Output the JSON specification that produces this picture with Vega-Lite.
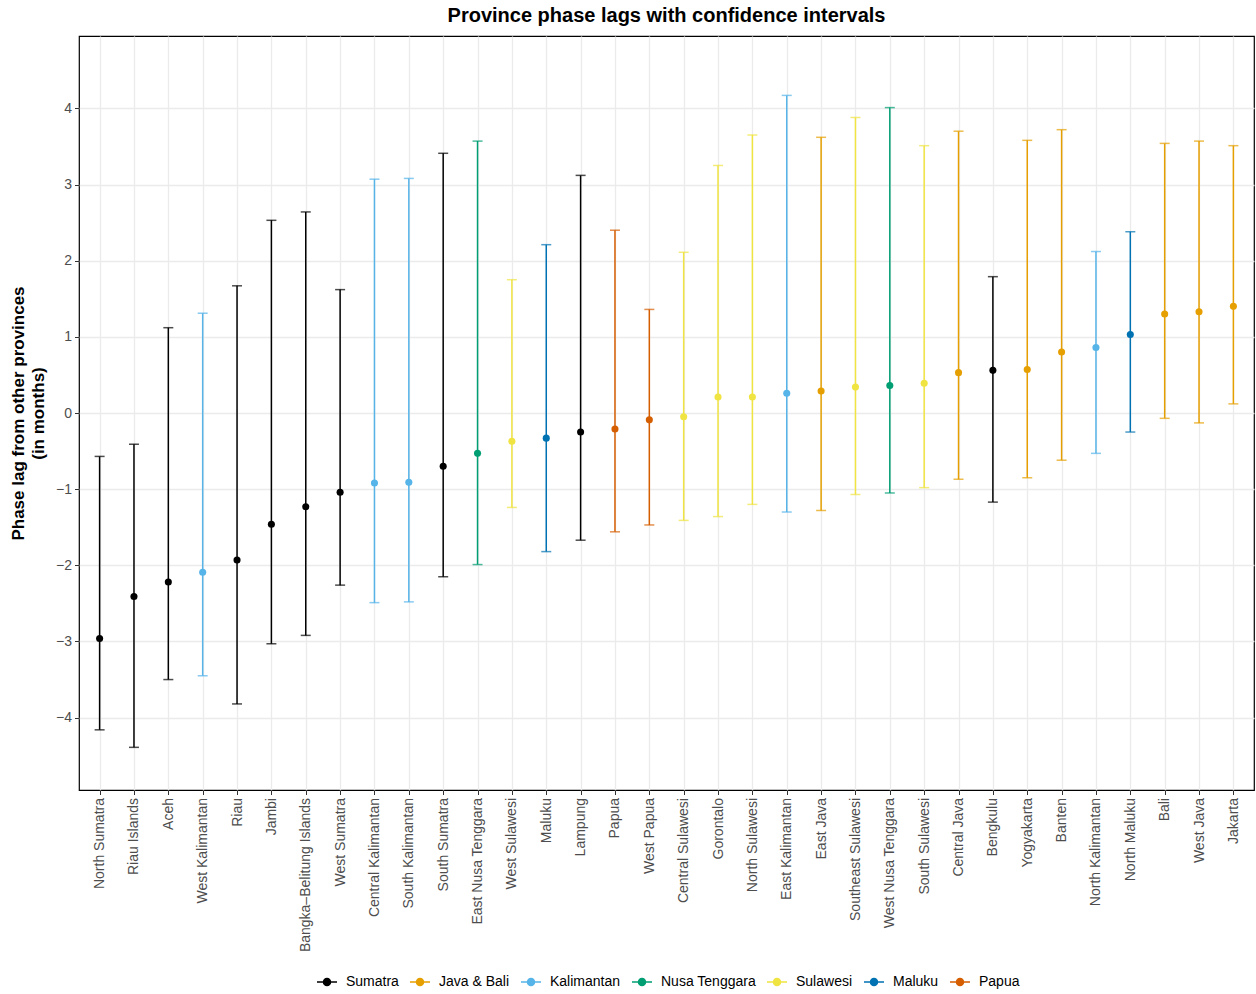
{
  "$schema": "https://vega.github.io/schema/vega-lite/v6.json",
  "width": 1175,
  "height": 754,
  "autosize": {"type": "none"},
  "padding": {"left": 79, "top": 36, "right": 2, "bottom": 204},
  "background": "white",
  "title": {"text": "Province phase lags with confidence intervals", "fontSize": 20, "fontWeight": "bold", "font": "Liberation Sans", "color": "black", "anchor": "middle", "offset": 10},
  "config": {
    "view": {"stroke": "black", "strokeWidth": 1.2},
    "font": "Liberation Sans",
    "axis": {"domain": false, "grid": true, "gridColor": "#ebebeb", "gridWidth": 1.3, "tickColor": "#333333", "tickSize": 4.5, "tickWidth": 1, "labelColor": "#4d4d4d", "labelFontSize": 14, "labelFont": "Liberation Sans", "titleFont": "Liberation Sans"}
  },
  "data": {"values": [
    {"province": "North Sumatra", "region": "Sumatra", "est": -2.96, "lo": -4.16, "hi": -0.57},
    {"province": "Riau Islands", "region": "Sumatra", "est": -2.41, "lo": -4.39, "hi": -0.41},
    {"province": "Aceh", "region": "Sumatra", "est": -2.22, "lo": -3.50, "hi": 1.12},
    {"province": "West Kalimantan", "region": "Kalimantan", "est": -2.09, "lo": -3.45, "hi": 1.31},
    {"province": "Riau", "region": "Sumatra", "est": -1.93, "lo": -3.82, "hi": 1.67},
    {"province": "Jambi", "region": "Sumatra", "est": -1.46, "lo": -3.03, "hi": 2.53},
    {"province": "Bangka–Belitung Islands", "region": "Sumatra", "est": -1.23, "lo": -2.92, "hi": 2.64},
    {"province": "West Sumatra", "region": "Sumatra", "est": -1.04, "lo": -2.26, "hi": 1.62},
    {"province": "Central Kalimantan", "region": "Kalimantan", "est": -0.92, "lo": -2.49, "hi": 3.07},
    {"province": "South Kalimantan", "region": "Kalimantan", "est": -0.91, "lo": -2.48, "hi": 3.08},
    {"province": "South Sumatra", "region": "Sumatra", "est": -0.70, "lo": -2.15, "hi": 3.41},
    {"province": "East Nusa Tenggara", "region": "Nusa Tenggara", "est": -0.53, "lo": -1.99, "hi": 3.57},
    {"province": "West Sulawesi", "region": "Sulawesi", "est": -0.37, "lo": -1.24, "hi": 1.75},
    {"province": "Maluku", "region": "Maluku", "est": -0.33, "lo": -1.82, "hi": 2.21},
    {"province": "Lampung", "region": "Sumatra", "est": -0.25, "lo": -1.67, "hi": 3.12},
    {"province": "Papua", "region": "Papua", "est": -0.21, "lo": -1.56, "hi": 2.40},
    {"province": "West Papua", "region": "Papua", "est": -0.09, "lo": -1.47, "hi": 1.36},
    {"province": "Central Sulawesi", "region": "Sulawesi", "est": -0.05, "lo": -1.41, "hi": 2.11},
    {"province": "Gorontalo", "region": "Sulawesi", "est": 0.21, "lo": -1.36, "hi": 3.25},
    {"province": "North Sulawesi", "region": "Sulawesi", "est": 0.21, "lo": -1.20, "hi": 3.65},
    {"province": "East Kalimantan", "region": "Kalimantan", "est": 0.26, "lo": -1.30, "hi": 4.17},
    {"province": "East Java", "region": "Java & Bali", "est": 0.29, "lo": -1.28, "hi": 3.62},
    {"province": "Southeast Sulawesi", "region": "Sulawesi", "est": 0.34, "lo": -1.07, "hi": 3.88},
    {"province": "West Nusa Tenggara", "region": "Nusa Tenggara", "est": 0.36, "lo": -1.05, "hi": 4.01},
    {"province": "South Sulawesi", "region": "Sulawesi", "est": 0.39, "lo": -0.98, "hi": 3.51},
    {"province": "Central Java", "region": "Java & Bali", "est": 0.53, "lo": -0.87, "hi": 3.70},
    {"province": "Bengkulu", "region": "Sumatra", "est": 0.56, "lo": -1.17, "hi": 1.79},
    {"province": "Yogyakarta", "region": "Java & Bali", "est": 0.57, "lo": -0.85, "hi": 3.58},
    {"province": "Banten", "region": "Java & Bali", "est": 0.80, "lo": -0.62, "hi": 3.72},
    {"province": "North Kalimantan", "region": "Kalimantan", "est": 0.86, "lo": -0.53, "hi": 2.12},
    {"province": "North Maluku", "region": "Maluku", "est": 1.03, "lo": -0.25, "hi": 2.38},
    {"province": "Bali", "region": "Java & Bali", "est": 1.30, "lo": -0.07, "hi": 3.54},
    {"province": "West Java", "region": "Java & Bali", "est": 1.33, "lo": -0.13, "hi": 3.57},
    {"province": "Jakarta", "region": "Java & Bali", "est": 1.40, "lo": 0.12, "hi": 3.51}
  ]},
  "encoding": {
    "x": {"field": "province", "type": "nominal", "sort": null, "scale": {"type": "point", "padding": 0.6},
      "axis": {"title": null, "labelAngle": -90, "labelPadding": 3}},
    "color": {"field": "region", "type": "nominal",
      "scale": {"domain": ["Sumatra", "Java & Bali", "Kalimantan", "Nusa Tenggara", "Sulawesi", "Maluku", "Papua"],
                "range": ["#000000", "#E69F00", "#56B4E9", "#009E73", "#F0E442", "#0072B2", "#D55E00"]},
      "legend": {"title": null, "orient": "none", "direction": "horizontal", "legendX": 237, "legendY": 935,
        "labelFontSize": 14, "labelColor": "black", "labelFont": "Liberation Sans",
        "symbolType": "M-1,0H1M0.35,0A0.35,0.35,0,1,1,-0.35,0A0.35,0.35,0,1,1,0.35,0Z",
        "symbolSize": 400, "symbolStrokeWidth": 1.5, "labelOffset": 8, "columnPadding": 8,
        "encode": {"symbols": {"update": {"fill": {"scale": "color", "field": "value"}, "stroke": {"scale": "color", "field": "value"}, "strokeWidth": {"value": 1.5}}}}}
    }
  },
  "layer": [
    {"mark": {"type": "rule", "strokeWidth": 1.5},
     "encoding": {
       "y": {"field": "lo", "type": "quantitative", "scale": {"domain": [-4.95, 4.95], "nice": false, "zero": false},
         "axis": {"values": [-4, -3, -2, -1, 0, 1, 2, 3, 4], "format": "d", "title": ["Phase lag from other provinces", "(in months)"], "titleFontSize": 17, "titleFontWeight": "bold", "titleColor": "black", "titleLineHeight": 20, "titlePadding": 8, "labelPadding": 3}},
       "y2": {"field": "hi"}
     }},
    {"mark": {"type": "tick", "size": 10, "thickness": 1.5}, "encoding": {"y": {"field": "lo", "type": "quantitative"}}},
    {"mark": {"type": "tick", "size": 10, "thickness": 1.5}, "encoding": {"y": {"field": "hi", "type": "quantitative"}}},
    {"mark": {"type": "point", "filled": true, "size": 50, "opacity": 1}, "encoding": {"y": {"field": "est", "type": "quantitative"}}},
    {"mark": {"type": "rule", "color": "red", "strokeDash": [6, 4], "strokeWidth": 1.5}, "encoding": {"y": {"datum": 0}, "color": {"value": "red"}}}
  ]
}
